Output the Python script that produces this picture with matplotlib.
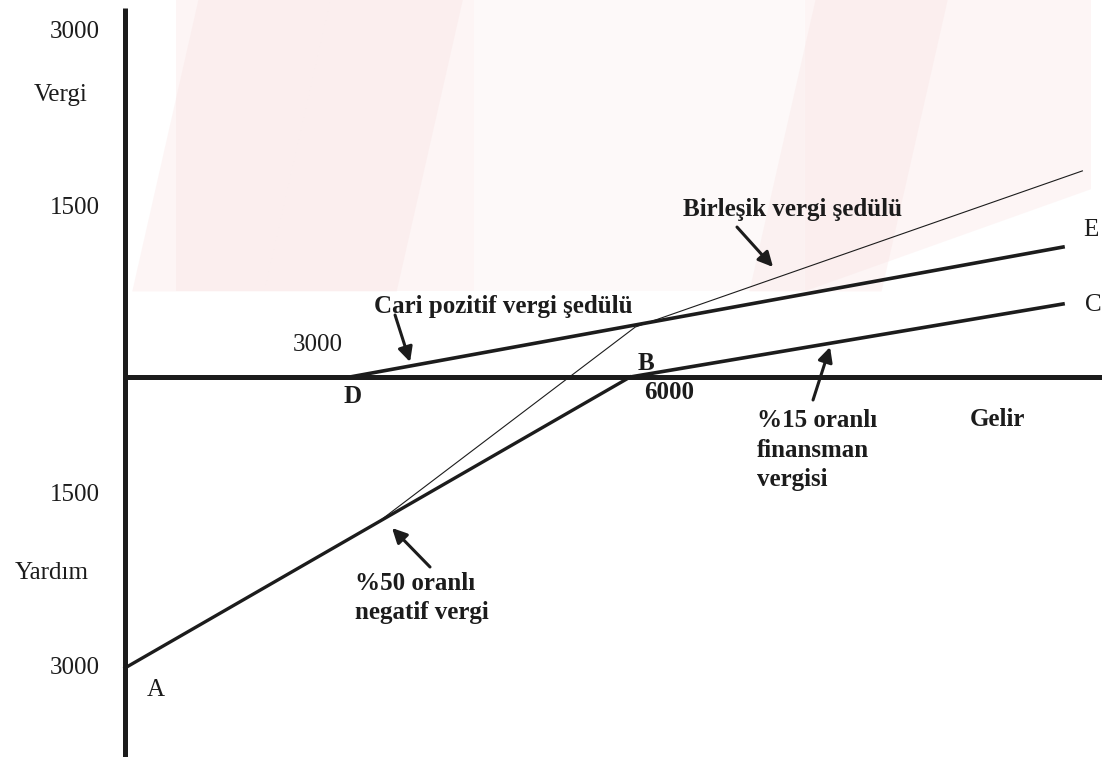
import matplotlib
matplotlib.use("Agg")
import matplotlib.pyplot as plt
from matplotlib.patches import Polygon

# ---------------- data (income, tax) ----------------
negative_x = [0, 6000]            # %50 negative tax  A -> B
negative_y = [-3000, 0]
current_x = [2670, 11140]         # current positive schedule D -> E
current_y = [0, 1340]
finance_x = [6000, 11140]         # %15 finance tax  B -> C
finance_y = [0, 753]
combined_x = [0, 3000, 6060, 11370]   # combined schedule (thin)
combined_y = [-3000, -1500, 515, 2125]

y_tick_labels = ["3000", "1500", "1500", "3000"]
y_tick_pos = [3557, 1742, -1216, -3000]

# ---------------- figure ----------------
plt.rcParams['font.family'] = ['Liberation Serif', 'DejaVu Serif']
fig = plt.figure(figsize=(11.02, 7.57), dpi=100)
ax = fig.add_axes([0, 0, 1, 1])
ax.set_xlim(-1485, 11603)
ax.set_ylim(-3918, 3887)
ax.axis('off')

# faint watermark wash (decoration, axes fractions)
wm = '#f8dede'
shapes = [
    [(0.16, 1.0), (0.43, 1.0), (0.43, 0.615), (0.16, 0.615)],
    [(0.43, 1.0), (0.73, 1.0), (0.73, 0.615), (0.43, 0.615)],
    [(0.73, 1.0), (0.99, 1.0), (0.99, 0.75), (0.73, 0.615)],
]
alphas = [0.28, 0.16, 0.28]
for s, a in zip(shapes, alphas):
    ax.add_patch(Polygon(s, closed=True, transform=ax.transAxes,
                         facecolor=wm, edgecolor='none', alpha=a, zorder=0))
for (x0, x1) in [(0.18, 0.30), (0.30, 0.42), (0.74, 0.86)]:
    ax.add_patch(Polygon([(x0, 1.0), (x1, 1.0), (x1 - 0.06, 0.615), (x0 - 0.06, 0.615)],
                         closed=True, transform=ax.transAxes, facecolor=wm,
                         edgecolor='none', alpha=0.28, zorder=0))

ink = '#1c1c1c'
# axes lines
ax.plot([0, 0], [-3918, 3804], color=ink, lw=3.6, solid_capstyle='butt', zorder=3)
ax.plot([0, 11603], [0, 0], color=ink, lw=3.6, solid_capstyle='butt', zorder=3)

# schedules
ax.plot(combined_x, combined_y, color=ink, lw=0.8, zorder=4)
ax.plot(negative_x, negative_y, color=ink, lw=2.4, zorder=4)
ax.plot(current_x, current_y, color=ink, lw=2.6, zorder=4)
ax.plot(finance_x, finance_y, color=ink, lw=2.6, zorder=4)

fs = 18
for lab, yp in zip(y_tick_labels, y_tick_pos):
    ax.text(-600, yp, lab, fontsize=fs, ha='center', va='center', color=ink)

ax.text(-760, 2907, "Vergi", fontsize=fs, ha='center', va='center', color=ink)
ax.text(-867, -2021, "Yardım", fontsize=fs, ha='center', va='center', color=ink)
ax.text(368, -3227, "A", fontsize=fs, ha='center', va='center', color=ink)
ax.text(2708, -206, "D", fontsize=fs, ha='center', va='center', color=ink, fontweight='bold')
ax.text(2292, 330, "3000", fontsize=fs, ha='center', va='center', color=ink)
ax.text(6461, -155, "6000", fontsize=fs, ha='center', va='center', color=ink, fontweight='bold')
ax.text(6188, 144, "B", fontsize=fs, ha='center', va='center', color=ink, fontweight='bold')
ax.text(11473, 1515, "E", fontsize=fs, ha='center', va='center', color=ink)
ax.text(11496, 742, "C", fontsize=fs, ha='center', va='center', color=ink)
ax.text(10356, -443, "Gelir", fontsize=fs, ha='center', va='center', color=ink, fontweight='bold')

arrow = dict(arrowstyle='-|>', color=ink, lw=2.2, mutation_scale=22, shrinkA=0, shrinkB=0)

ax.text(4489, 722, "Cari pozitif vergi şedülü", fontsize=fs, fontweight='bold',
        ha='center', va='center', color=ink)
ax.annotate("", xy=(3385, 155), xytext=(3207, 639), arrowprops=arrow)
ax.annotate("", xy=(7696, 1134), xytext=(7268, 1546), arrowprops=arrow)
ax.text(7922, 1722, "Birleşik vergi şedülü", fontsize=fs, fontweight='bold',
        ha='center', va='center', color=ink)
ax.annotate("", xy=(8373, 309), xytext=(8171, -237), arrowprops=arrow)
ax.text(7506, -753, "%15 oranlı\nfinansman\nvergisi", fontsize=fs, fontweight='bold',
        ha='left', va='center', color=ink, linespacing=1.35)
ax.annotate("", xy=(3171, -1557), xytext=(3622, -1959), arrowprops=arrow)
ax.text(2732, -2278, "%50 oranlı\nnegatif vergi", fontsize=fs, fontweight='bold',
        ha='left', va='center', color=ink, linespacing=1.35)

fig.savefig("out.png", dpi=100, facecolor='white')
